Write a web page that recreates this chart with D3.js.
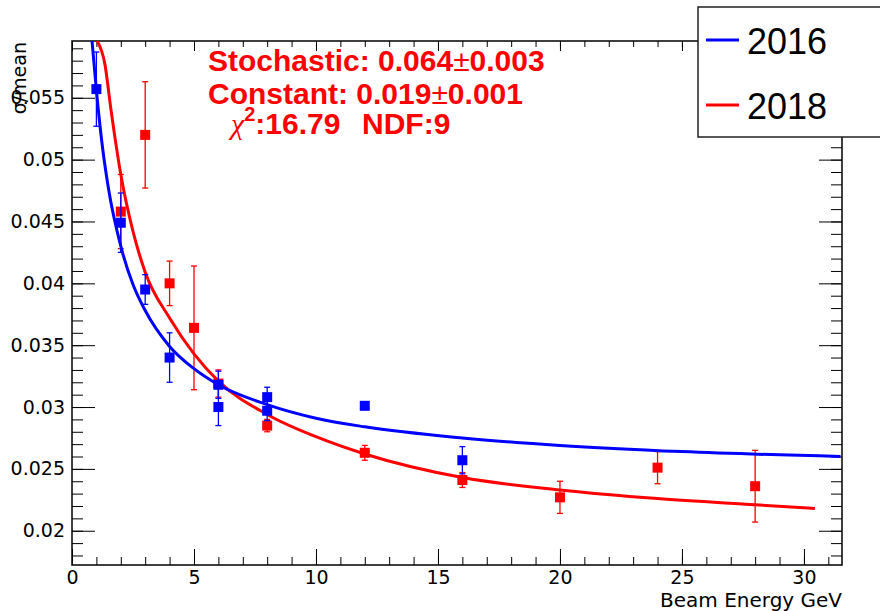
<!DOCTYPE html>
<html>
<head>
<meta charset="utf-8">
<script src="https://cdn.jsdelivr.net/npm/d3@7"></script>
<style>
  body { margin: 0; background: #fff; }
  svg { display: block; }
</style>
</head>
<body>
<svg id="chart" width="880" height="611"></svg>
<script>
// sigma/mean vs beam energy
const energy2016 = [1, 2, 3, 4, 6, 6, 8, 8, 12, 16];
const res2016 = [0.0557, 0.0449, 0.0395, 0.0340, 0.0318, 0.0300, 0.0308, 0.0297, 0.0301, 0.0257];
const err2016 = [0.0030, 0.0024, 0.0012, 0.0020, 0.0011, 0.0015, 0.0008, 0.0008, 0.0003, 0.0011];

const energy2018 = [2, 3, 4, 5, 6, 8, 12, 16, 20, 24, 28];
const res2018 = [0.0458, 0.0520, 0.0400, 0.0364, 0.0319, 0.0285, 0.0263, 0.0241, 0.0227, 0.0251, 0.0236];
const err2018 = [0.0030, 0.0043, 0.0018, 0.0050, 0.0011, 0.0005, 0.0006, 0.0006, 0.0013, 0.0013, 0.0029];

// fitted curves
const fitE2016 = [0.82, 1, 1.25, 1.5, 2, 2.5, 3, 4, 5, 6, 8, 10, 12, 16, 20, 25, 31.5];
const fit2016 = [0.0596, 0.0556, 0.0510, 0.0476, 0.0430, 0.0399, 0.0378, 0.0349, 0.0331, 0.0318, 0.0302, 0.0291, 0.0284, 0.0275, 0.0269, 0.0264, 0.0260];
const fitE2018 = [1.03, 1.35, 1.6, 2, 2.5, 3, 4, 5, 6, 8, 10, 12, 16, 20, 24, 28, 30.45];
const fit2018 = [0.0596, 0.0577, 0.0540, 0.0488, 0.0442, 0.0409, 0.0372, 0.0343, 0.0321, 0.0294, 0.0276, 0.0262, 0.0243, 0.0233, 0.0226, 0.0221, 0.0218];

const xTicks = [0, 5, 10, 15, 20, 25, 30];
const yTicks = [0.02, 0.025, 0.03, 0.035, 0.04, 0.045, 0.05, 0.055];
const years = ['2016', '2018'];
const colors = ['#0000ff', '#ff0000'];

const frame = { left: 72, right: 842, top: 41, bottom: 565 };

const svg = d3.select('#chart');

const xScale = d3.scaleLinear()
  .domain([0, 31.56])
  .range([frame.left, frame.right]);

const yScale = d3.scaleLinear()
  .domain([0.01723, 0.05959])
  .range([frame.bottom, frame.top]);

svg.append('clipPath').attr('id', 'clip')
  .append('rect')
  .attr('x', frame.left)
  .attr('y', frame.top)
  .attr('width', frame.right - frame.left)
  .attr('height', frame.bottom - frame.top);

// axes, ticks pointing inside the frame
const minorX = d3.range(0, 32);
const minorY = d3.range(18, 60).map((d) => d / 1000);

function styleAxis(g) {
  g.select('.domain').remove();
  g.selectAll('line').attr('stroke', '#000').attr('stroke-width', 1);
  g.selectAll('text')
    .attr('fill', '#000')
    .attr('font-family', 'DejaVu Sans, sans-serif')
    .attr('font-size', 19);
}

// bottom
svg.append('g')
  .attr('transform', `translate(0,${frame.bottom})`)
  .call(d3.axisBottom(xScale).tickValues(minorX).tickSizeInner(-8).tickFormat(''))
  .call(styleAxis);
svg.append('g')
  .attr('transform', `translate(0,${frame.bottom})`)
  .call(d3.axisBottom(xScale).tickValues(xTicks).tickSizeInner(-16).tickPadding(6).tickFormat((d) => d))
  .call(styleAxis);

// top
svg.append('g')
  .attr('transform', `translate(0,${frame.top})`)
  .call(d3.axisTop(xScale).tickValues(minorX).tickSizeInner(-6).tickFormat(''))
  .call(styleAxis);
svg.append('g')
  .attr('transform', `translate(0,${frame.top})`)
  .call(d3.axisTop(xScale).tickValues(xTicks).tickSizeInner(-10).tickFormat(''))
  .call(styleAxis);

// left
svg.append('g')
  .attr('transform', `translate(${frame.left},0)`)
  .call(d3.axisLeft(yScale).tickValues(minorY).tickSizeInner(-11).tickFormat(''))
  .call(styleAxis);
svg.append('g')
  .attr('transform', `translate(${frame.left},0)`)
  .call(d3.axisLeft(yScale).tickValues(yTicks).tickSizeInner(-23).tickPadding(7).tickFormat((d) => d))
  .call(styleAxis);

// right
svg.append('g')
  .attr('transform', `translate(${frame.right},0)`)
  .call(d3.axisRight(yScale).tickValues(minorY).tickSizeInner(-11).tickFormat(''))
  .call(styleAxis);
svg.append('g')
  .attr('transform', `translate(${frame.right},0)`)
  .call(d3.axisRight(yScale).tickValues(yTicks).tickSizeInner(-23).tickFormat(''))
  .call(styleAxis);

svg.append('rect')
  .attr('x', frame.left)
  .attr('y', frame.top)
  .attr('width', frame.right - frame.left)
  .attr('height', frame.bottom - frame.top)
  .attr('fill', 'none')
  .attr('stroke', '#000')
  .attr('stroke-width', 1.5);

// axis titles
svg.append('text')
  .text('Beam Energy GeV')
  .attr('x', frame.right)
  .attr('y', 607)
  .attr('text-anchor', 'end')
  .attr('font-family', 'DejaVu Sans, sans-serif')
  .attr('font-size', 20);

svg.append('text')
  .text('σ/mean')
  .attr('transform', 'translate(26,42) rotate(-90)')
  .attr('text-anchor', 'end')
  .attr('font-family', 'DejaVu Sans, sans-serif')
  .attr('font-size', 19);

const lineFunction = d3.line()
  .x((d) => xScale(d[0]))
  .y((d) => yScale(d[1]))
  .curve(d3.curveMonotoneX);

function drawGraph(energy, res, err, color) {
  const pts = energy.map((e, i) => ({ e, v: res[i], s: err[i] }));
  const g = svg.append('g');
  g.selectAll('line.bar')
    .data(pts)
    .enter()
    .append('line')
    .attr('x1', (d) => xScale(d.e))
    .attr('x2', (d) => xScale(d.e))
    .attr('y1', (d) => yScale(d.v - d.s))
    .attr('y2', (d) => yScale(d.v + d.s))
    .attr('stroke', color)
    .attr('stroke-width', 1.3);
  ['lo', 'hi'].forEach((k) => {
    g.selectAll(`line.cap-${k}`)
      .data(pts)
      .enter()
      .append('line')
      .attr('x1', (d) => xScale(d.e) - 3)
      .attr('x2', (d) => xScale(d.e) + 3)
      .attr('y1', (d) => yScale(k === 'lo' ? d.v - d.s : d.v + d.s))
      .attr('y2', (d) => yScale(k === 'lo' ? d.v - d.s : d.v + d.s))
      .attr('stroke', color)
      .attr('stroke-width', 1.3);
  });
  g.selectAll('rect')
    .data(pts)
    .enter()
    .append('rect')
    .attr('x', (d) => xScale(d.e) - 5)
    .attr('y', (d) => yScale(d.v) - 5)
    .attr('width', 10)
    .attr('height', 10)
    .attr('fill', color);
}

function drawFit(energy, values, color) {
  svg.append('path')
    .attr('clip-path', 'url(#clip)')
    .attr('d', lineFunction(energy.map((e, i) => [e, values[i]])))
    .attr('stroke', color)
    .attr('stroke-width', 3)
    .attr('fill', 'none');
}

drawGraph(energy2018, res2018, err2018, colors[1]);
drawFit(fitE2018, fit2018, colors[1]);
drawGraph(energy2016, res2016, err2016, colors[0]);
drawFit(fitE2016, fit2016, colors[0]);

// fit result text
const fitText = svg.append('g')
  .attr('fill', '#ff0000')
  .attr('font-family', 'Liberation Sans, Arial, sans-serif')
  .attr('font-weight', 'bold')
  .attr('font-size', 30);

const t1 = fitText.append('text').attr('x', 208).attr('y', 71);
t1.append('tspan').text('Stochastic: 0.064');
t1.append('tspan').text('±').attr('font-weight', 'normal');
t1.append('tspan').text('0.003');

const t2 = fitText.append('text').attr('x', 208).attr('y', 104);
t2.append('tspan').text('Constant: 0.019');
t2.append('tspan').text('±').attr('font-weight', 'normal');
t2.append('tspan').text('0.001');

const t3 = fitText.append('text').attr('x', 231).attr('y', 134);
t3.append('tspan').text('χ')
  .attr('font-family', 'Liberation Serif, serif')
  .attr('font-style', 'italic')
  .attr('font-weight', 'normal');
t3.append('tspan').text('2').attr('font-size', 20).attr('dy', -13);
t3.append('tspan').text(':16.79').attr('dy', 13);
t3.append('tspan').text('NDF:9').attr('x', 362);

// legend
const legend = svg.append('g');
legend.append('rect')
  .attr('x', 698)
  .attr('y', 7)
  .attr('width', 200)
  .attr('height', 130)
  .attr('fill', '#fff')
  .attr('stroke', '#222')
  .attr('stroke-width', 1.5);

years.forEach((yr, i) => {
  const ly = 40 + i * 65;
  legend.append('line')
    .attr('x1', 706)
    .attr('x2', 739)
    .attr('y1', ly)
    .attr('y2', ly)
    .attr('stroke', colors[i])
    .attr('stroke-width', 3);
  legend.append('text')
    .text(yr)
    .attr('x', 747)
    .attr('y', ly + 14)
    .attr('font-family', 'Liberation Sans, Arial, sans-serif')
    .attr('font-size', 36);
});
</script>
</body>
</html>
